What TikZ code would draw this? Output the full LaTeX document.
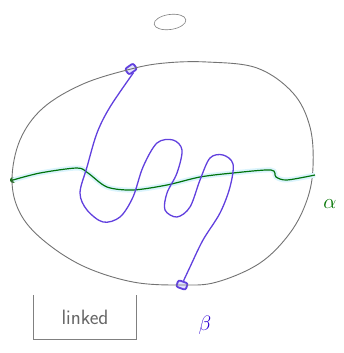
\documentclass[tikz,border=0pt]{standalone}
\usepackage{amsmath}
\usepackage{tikz}
\usetikzlibrary{shapes,positioning,calc}

\begin{document}
\begin{tikzpicture}[x=1pt, y=-1pt,
    loopline/.style={draw=black!55, line width=0.9pt},
    strand/.style={draw=blue!65!violet!75, line width=1.3pt, line join=round},
    ray/.style={draw=green!45!black!90!teal, line width=1.2pt,
        preaction={draw=cyan!14, line width=5pt}},
    marker/.style={draw=blue!65!violet!75, fill=blue!12, line width=1.8pt,
        rectangle, rounded corners=2pt, minimum width=10pt, minimum height=7pt,
        inner sep=0pt}]
    \useasboundingbox (0,0) rectangle (344,353);

    % Markers on the loop
    \node[marker, rotate=35] (top) at (131,69) {};
    \node[marker, rotate=-20] (bot) at (182,285) {};
    \node[circle, fill=green!40!black, inner sep=0pt, minimum size=6pt] (base) at (13,180) {};
    \coordinate (tip) at (315,175);

    % Outer loop
    \draw[loopline] plot[smooth cycle, tension=0.6] coordinates {
        (top.center) (83,84) (43,108) (20,140) (12,180) (20,213) (43,240)
        (83,266) (133,282) (bot.center) (217,282) (260,263) (290,233)
        (307,200) (313,167) (310,127) (293,93) (257,68) (207,62) (165,63)};

    % Green ray
    \draw[ray] plot[smooth, tension=0.5] coordinates {
        (base.center) (40,173) (77,168) (88,173) (107,187) (133,190) (167,185)
        (200,177) (233,173) (271,170) (276,177) (287,180) (tip)};

    % Blue strand
    \draw[strand] plot[smooth, tension=0.55] coordinates {
        (top.south) (110,107) (97,133) (87,167) (80,193) (87,210) (103,222)
        (120,217) (133,197) (143,167) (157,143) (173,140) (182,150) (177,173)
        (167,193) (165,210) (177,217) (190,207) (200,180) (210,158) (223,155)
        (233,164) (230,187) (220,213) (203,240) (190,267) (bot.north)};

    % Labels
    \node[draw=black!50, ellipse, line width=0.6pt, minimum width=32pt,
        minimum height=15pt, inner sep=0pt, rotate=8] (circ) at (170,22) {};
    \node[text=green!45!black, font=\huge] (alpha) at (330,204) {$\alpha$};
    \node[text=blue!65!violet, font=\huge] (beta) at (205,325) {$\beta$};
    \node[text=black!60, font=\huge\sffamily, minimum width=103pt,
        minimum height=44pt] (linked) at (85,317) {linked};
    \draw[black!50, line width=0.8pt] (linked.north west) -- (linked.south west)
        -- (linked.south east) -- (linked.north east);
\end{tikzpicture}
\end{document}
